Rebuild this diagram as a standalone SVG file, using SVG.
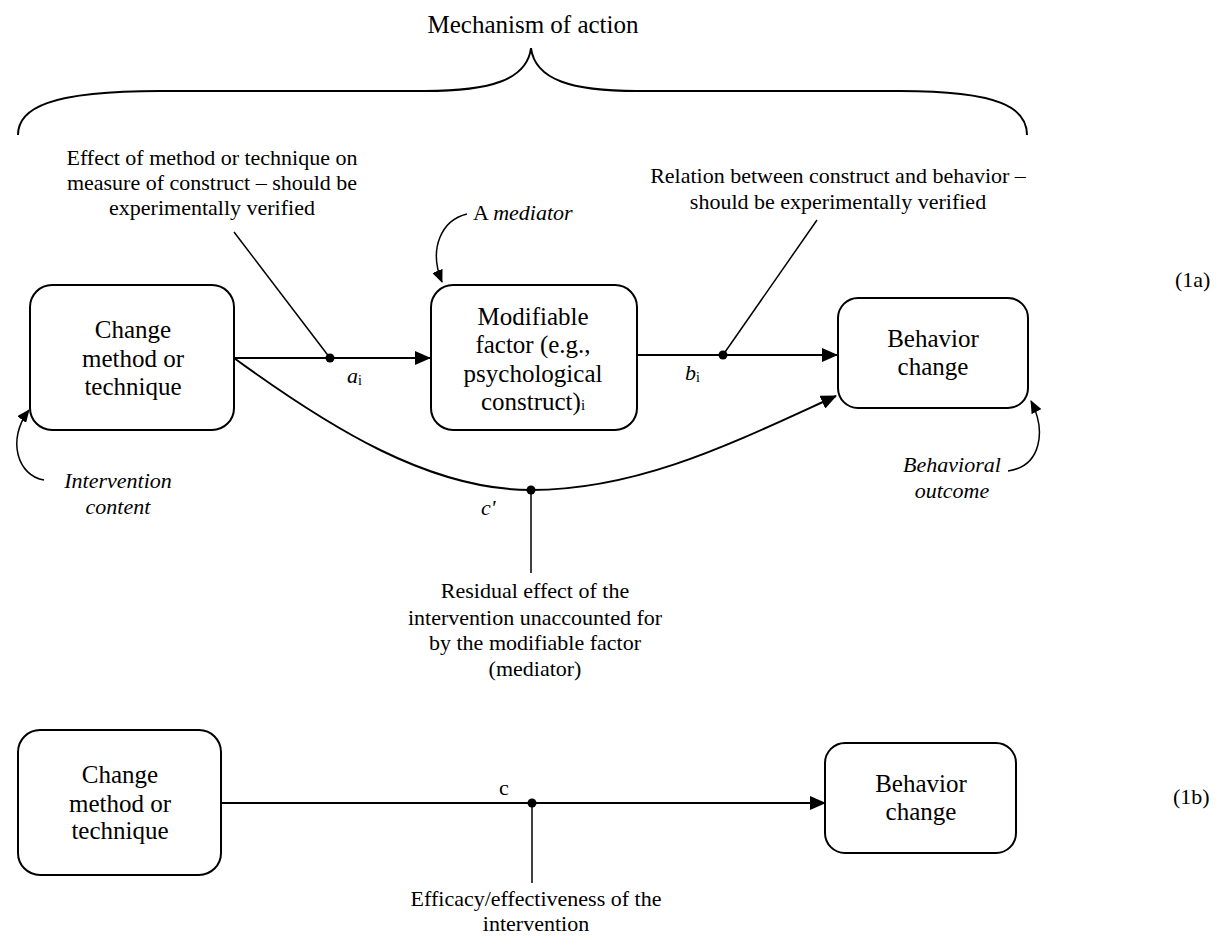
<svg xmlns="http://www.w3.org/2000/svg" width="1218" height="936" viewBox="0 0 1218 936" font-family="'Liberation Serif', 'Times New Roman', 'DejaVu Serif', serif">
<defs>
<marker id="ah" viewBox="0 0 16 14" refX="15" refY="7" markerWidth="16" markerHeight="14" markerUnits="userSpaceOnUse" orient="auto">
<path d="M0,0 L16,7 L0,14 z" fill="#000"/>
</marker>
<marker id="ah2" viewBox="0 0 13 11" refX="12" refY="5.5" markerWidth="13" markerHeight="11" markerUnits="userSpaceOnUse" orient="auto">
<path d="M0,0 L13,5.5 L0,11 z" fill="#000"/>
</marker>
</defs>
<style>
text{font-family:"Liberation Serif","Times New Roman","DejaVu Serif",serif;fill:#000}
.box{fill:#fff;stroke:#000;stroke-width:2}
.bt{font-size:25px;text-anchor:middle}
.an{font-size:22px;text-anchor:middle}
.it{font-style:italic}
.ln{fill:none;stroke:#000;stroke-width:2}
.thin{fill:none;stroke:#000;stroke-width:1.5}
.dot{fill:#000}
</style>
<rect width="1218" height="936" fill="#fff"/>

<g id="brace">
<path class="ln" stroke-width="1.8" d="M18,135 C18,108 50,91 160,91 L425,91 C490,91 527,80 531,48 C535,80 572,91 637,91 L900,91 C1000,91 1027,108 1027,135"/>
<text x="533" y="33" class="bt">Mechanism of action</text>
</g>

<g id="connectors">
<line class="ln" x1="234" y1="358" x2="430" y2="358" marker-end="url(#ah)"/>
<line class="ln" x1="637" y1="355" x2="837" y2="355" marker-end="url(#ah)"/>
<path class="ln" d="M234,358 C330,428 430,490 531,490 C640,490 735,442 836,396" marker-end="url(#ah)"/>
<line class="thin" x1="234" y1="232" x2="330" y2="358"/>
<line class="thin" x1="817" y1="220" x2="723" y2="355"/>
<line class="thin" x1="531" y1="490" x2="531" y2="573"/>
<circle class="dot" cx="330" cy="358" r="4.5"/>
<circle class="dot" cx="723" cy="355" r="4.5"/>
<circle class="dot" cx="531" cy="490" r="4.5"/>
<path class="thin" d="M467,214 C442,220 428,248 442,282" marker-end="url(#ah2)"/>
<path class="thin" d="M44,480 C18,476 6,440 29,410" marker-end="url(#ah2)"/>
<path class="thin" d="M1008,471 C1042,466 1046,430 1031,401" marker-end="url(#ah2)"/>
<line class="ln" x1="221" y1="803" x2="825" y2="803" marker-end="url(#ah)"/>
<line class="thin" x1="532" y1="803" x2="532" y2="883"/>
<circle class="dot" cx="532" cy="803" r="4.5"/>
</g>

<g id="node-change-1a">
<rect class="box" x="30" y="285" width="204" height="145" rx="22"/>
<text class="bt" x="133" y="338">Change</text>
<text class="bt" x="133" y="367">method or</text>
<text class="bt" x="133" y="395">technique</text>
</g>
<g id="node-modifiable">
<rect class="box" x="431" y="285" width="206" height="145" rx="22"/>
<text class="bt" x="533" y="325">Modifiable</text>
<text class="bt" x="533" y="353">factor (e.g.,</text>
<text class="bt" x="533" y="382">psychological</text>
<text class="bt" x="533" y="410">construct)<tspan font-size="15">i</tspan></text>
</g>
<g id="node-behavior-1a">
<rect class="box" x="838" y="298" width="190" height="110" rx="20"/>
<text class="bt" x="933" y="347">Behavior</text>
<text class="bt" x="933" y="375">change</text>
</g>

<g id="labels-1a">
<text class="an" x="212" y="165">Effect of method or technique on</text>
<text class="an" x="212" y="190">measure of construct – should be</text>
<text class="an" x="212" y="215">experimentally verified</text>
<text x="473" y="220" font-size="22">A <tspan class="it">mediator</tspan></text>
<text class="an" x="838" y="183">Relation between construct and behavior –</text>
<text class="an" x="838" y="209">should be experimentally verified</text>
<text x="347" y="383" font-size="22" class="it">a<tspan font-size="14" font-style="normal" dy="2">i</tspan></text>
<text x="685" y="380" font-size="22" class="it">b<tspan font-size="14" font-style="normal" dy="2">i</tspan></text>
<text x="481" y="515" font-size="22" class="it">c'</text>
<text class="an it" x="118" y="488">Intervention</text>
<text class="an it" x="118" y="514">content</text>
<text class="an it" x="952" y="472">Behavioral</text>
<text class="an it" x="952" y="498">outcome</text>
<text class="an" x="535" y="598">Residual effect of the</text>
<text class="an" x="535" y="625">intervention unaccounted for</text>
<text class="an" x="535" y="650">by the modifiable factor</text>
<text class="an" x="535" y="676">(mediator)</text>
<text x="1175" y="287" font-size="22">(1a)</text>
</g>

<g id="node-change-1b">
<rect class="box" x="18" y="730" width="203" height="145" rx="22"/>
<text class="bt" x="120" y="783">Change</text>
<text class="bt" x="120" y="812">method or</text>
<text class="bt" x="120" y="839">technique</text>
</g>
<g id="node-behavior-1b">
<rect class="box" x="825" y="743" width="191" height="110" rx="20"/>
<text class="bt" x="921" y="792">Behavior</text>
<text class="bt" x="921" y="820">change</text>
</g>
<g id="labels-1b">
<text x="499" y="795" font-size="22">c</text>
<text class="an" x="536" y="906">Efficacy/effectiveness of the</text>
<text class="an" x="536" y="931">intervention</text>
<text x="1173" y="804" font-size="22">(1b)</text>
</g>
</svg>
